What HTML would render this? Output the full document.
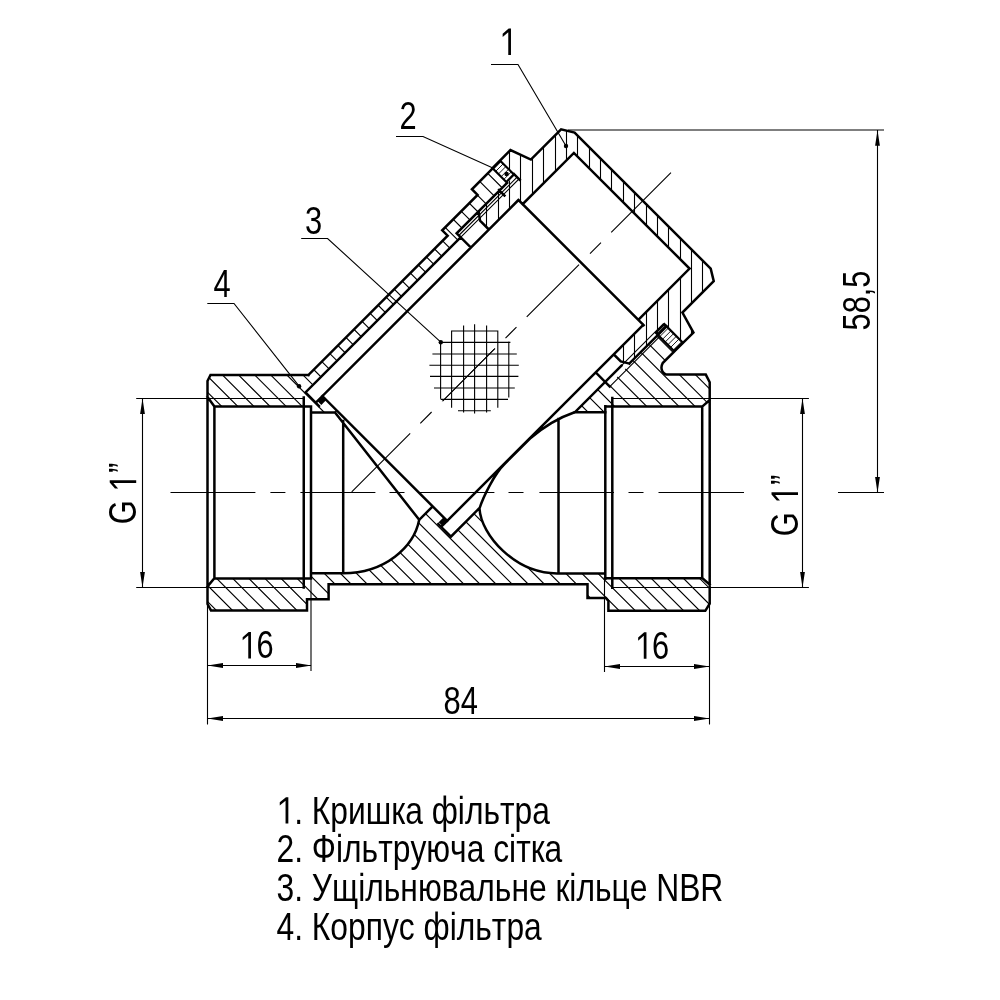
<!DOCTYPE html>
<html><head><meta charset="utf-8"><style>html,body{margin:0;padding:0;background:#fff;width:1000px;height:1000px;overflow:hidden}svg{display:block;filter:grayscale(1)}text{font-family:"Liberation Sans",sans-serif;fill:#000;font-kerning:none}</style></head><body>
<svg width="1000" height="1000" viewBox="0 0 1000 1000">
<rect width="1000" height="1000" fill="#fff"/>
<defs>
<clipPath id="cb"><path d="M207.5,586.4 L214.2,578.4 L310.2,578.4 L310.2,573.2 L343.2,573.2 C385,573.2 414,547 419.24,519.82 L431.96,507.1 L442.22,517.35 L438.33,524.07 L450.91,536.65 L478.84,508.72 C481,535 515,573.4 557,573.4 L605,573.4 L605,578.4 L702.5,578.4 L709.7,584.6 L709.7,603.6 L705.3,610.8 L608.4,610.8 L608.4,601 L606,598 L587.5,598 L587.5,584.2 L328.6,584.2 L328.6,599.2 L307,599.2 L307,610.4 L211,610.4 L207.5,604 Z"/><path d="M207.5,397 L207.5,381 L210.5,375 L308.36,375.01 L447.66,235.71 L442.22,230.26 L477.57,194.91 L471.92,189.25 L492.7,168.46 L507.13,182.89 L456.64,233.37 L460.6,237.33 L305.46,392.47 L318.9,405.91 L333,412.5 L311,412.5 L311,406.5 L214.4,406.5 Z"/></clipPath>
<clipPath id="cr"><path d="M574.8,412.34 L605.2,381.94 L608.74,385.47 L658.59,335.62 L674.36,351.39 L662.69,363.06 C660,368 662,374.6 668,374.6 L705.8,374.6 L709.4,382.3 L709.4,400.3 L702.2,406.6 L605.9,406.6 L605.9,412.3 L574.6,412.3 Z"/></clipPath>
<clipPath id="cc"><path d="M488.89,229.56 L480.05,220.72 L478.56,211.45 L514.62,175.39 L499.85,160.61 L510.45,150.01 L530.89,159.55 L561.08,129.36 L574.59,132.54 L710.71,268.66 L713.75,281.18 L682.42,312.5 L693.45,332.58 L683.13,342.91 L666.51,326.29 L629.25,363.55 L620.76,361.43 L614.04,354.71 L643.6,325.16 L638.3,319.85 L689.56,268.59 L573.88,152.91 L522.61,204.17 L518.44,200 Z"/></clipPath>
<clipPath id="co"><path d="M492.85,168.6 L500.48,160.97 L513.92,174.4 L506.28,182.04 Z"/><path d="M655.76,332.79 L664.39,324.17 L682.63,342.41 L674.01,351.04 Z"/></clipPath>
</defs>
<path clip-path="url(#cb)" d="M-1440.5,0 L-440.5,1000 M-1424.4,0 L-424.4,1000 M-1408.3,0 L-408.3,1000 M-1392.2,0 L-392.2,1000 M-1376.1,0 L-376.1,1000 M-1360,0 L-360,1000 M-1343.9,0 L-343.9,1000 M-1327.8,0 L-327.8,1000 M-1311.7,0 L-311.7,1000 M-1295.6,0 L-295.6,1000 M-1279.5,0 L-279.5,1000 M-1263.4,0 L-263.4,1000 M-1247.3,0 L-247.3,1000 M-1231.2,0 L-231.2,1000 M-1215.1,0 L-215.1,1000 M-1199,0 L-199,1000 M-1182.9,0 L-182.9,1000 M-1166.8,0 L-166.8,1000 M-1150.7,0 L-150.7,1000 M-1134.6,0 L-134.6,1000 M-1118.5,0 L-118.5,1000 M-1102.4,0 L-102.4,1000 M-1086.3,0 L-86.3,1000 M-1070.2,0 L-70.2,1000 M-1054.1,0 L-54.1,1000 M-1038,0 L-38,1000 M-1021.9,0 L-21.9,1000 M-1005.8,0 L-5.8,1000 M-989.7,0 L10.3,1000 M-973.6,0 L26.4,1000 M-957.5,0 L42.5,1000 M-941.4,0 L58.6,1000 M-925.3,0 L74.7,1000 M-909.2,0 L90.8,1000 M-893.1,0 L106.9,1000 M-877,0 L123,1000 M-860.9,0 L139.1,1000 M-844.8,0 L155.2,1000 M-828.7,0 L171.3,1000 M-812.6,0 L187.4,1000 M-796.5,0 L203.5,1000 M-780.4,0 L219.6,1000 M-764.3,0 L235.7,1000 M-748.2,0 L251.8,1000 M-732.1,0 L267.9,1000 M-716,0 L284,1000 M-699.9,0 L300.1,1000 M-683.8,0 L316.2,1000 M-667.7,0 L332.3,1000 M-651.6,0 L348.4,1000 M-635.5,0 L364.5,1000 M-619.4,0 L380.6,1000 M-603.3,0 L396.7,1000 M-587.2,0 L412.8,1000 M-571.1,0 L428.9,1000 M-555,0 L445,1000 M-538.9,0 L461.1,1000 M-522.8,0 L477.2,1000 M-506.7,0 L493.3,1000 M-490.6,0 L509.4,1000 M-474.5,0 L525.5,1000 M-458.4,0 L541.6,1000 M-442.3,0 L557.7,1000 M-426.2,0 L573.8,1000 M-410.1,0 L589.9,1000 M-394,0 L606,1000 M-377.9,0 L622.1,1000 M-361.8,0 L638.2,1000 M-345.7,0 L654.3,1000 M-329.6,0 L670.4,1000 M-313.5,0 L686.5,1000 M-297.4,0 L702.6,1000 M-281.3,0 L718.7,1000 M-265.2,0 L734.8,1000 M-249.1,0 L750.9,1000 M-233,0 L767,1000 M-216.9,0 L783.1,1000 M-200.8,0 L799.2,1000 M-184.7,0 L815.3,1000 M-168.6,0 L831.4,1000 M-152.5,0 L847.5,1000 M-136.4,0 L863.6,1000 M-120.3,0 L879.7,1000 M-104.2,0 L895.8,1000 M-88.1,0 L911.9,1000 M-72,0 L928,1000 M-55.9,0 L944.1,1000 M-39.8,0 L960.2,1000 M-23.7,0 L976.3,1000 M-7.6,0 L992.4,1000 M8.5,0 L1008.5,1000 M24.6,0 L1024.6,1000 M40.7,0 L1040.7,1000 M56.8,0 L1056.8,1000 M72.9,0 L1072.9,1000 M89,0 L1089,1000 M105.1,0 L1105.1,1000 M121.2,0 L1121.2,1000 M137.3,0 L1137.3,1000 M153.4,0 L1153.4,1000 M169.5,0 L1169.5,1000 M185.6,0 L1185.6,1000 M201.7,0 L1201.7,1000 M217.8,0 L1217.8,1000 M233.9,0 L1233.9,1000 M250,0 L1250,1000 M266.1,0 L1266.1,1000 M282.2,0 L1282.2,1000 M298.3,0 L1298.3,1000 M314.4,0 L1314.4,1000 M330.5,0 L1330.5,1000 M346.6,0 L1346.6,1000 M362.7,0 L1362.7,1000 M378.8,0 L1378.8,1000 M394.9,0 L1394.9,1000 M411,0 L1411,1000 M427.1,0 L1427.1,1000 M443.2,0 L1443.2,1000 M459.3,0 L1459.3,1000 M475.4,0 L1475.4,1000 M491.5,0 L1491.5,1000 M507.6,0 L1507.6,1000 M523.7,0 L1523.7,1000 M539.8,0 L1539.8,1000 M555.9,0 L1555.9,1000 M572,0 L1572,1000 M588.1,0 L1588.1,1000 M604.2,0 L1604.2,1000 M620.3,0 L1620.3,1000 M636.4,0 L1636.4,1000 M652.5,0 L1652.5,1000 M668.6,0 L1668.6,1000 M684.7,0 L1684.7,1000 M700.8,0 L1700.8,1000 M716.9,0 L1716.9,1000 M733,0 L1733,1000 M749.1,0 L1749.1,1000 M765.2,0 L1765.2,1000 M781.3,0 L1781.3,1000 M797.4,0 L1797.4,1000 M813.5,0 L1813.5,1000 M829.6,0 L1829.6,1000 M845.7,0 L1845.7,1000 M861.8,0 L1861.8,1000 M877.9,0 L1877.9,1000 M894,0 L1894,1000 M910.1,0 L1910.1,1000 M926.2,0 L1926.2,1000 M942.3,0 L1942.3,1000 M958.4,0 L1958.4,1000 M974.5,0 L1974.5,1000 M990.6,0 L1990.6,1000 M1006.7,0 L2006.7,1000 M1022.8,0 L2022.8,1000 M1038.9,0 L2038.9,1000 M1055,0 L2055,1000 M1071.1,0 L2071.1,1000 M1087.2,0 L2087.2,1000 M1103.3,0 L2103.3,1000 M1119.4,0 L2119.4,1000" stroke="#000" stroke-width="1.15" fill="none"/>
<path clip-path="url(#cr)" d="M-1434.1,0 L-434.1,1000 M-1418,0 L-418,1000 M-1401.9,0 L-401.9,1000 M-1385.8,0 L-385.8,1000 M-1369.7,0 L-369.7,1000 M-1353.6,0 L-353.6,1000 M-1337.5,0 L-337.5,1000 M-1321.4,0 L-321.4,1000 M-1305.3,0 L-305.3,1000 M-1289.2,0 L-289.2,1000 M-1273.1,0 L-273.1,1000 M-1257,0 L-257,1000 M-1240.9,0 L-240.9,1000 M-1224.8,0 L-224.8,1000 M-1208.7,0 L-208.7,1000 M-1192.6,0 L-192.6,1000 M-1176.5,0 L-176.5,1000 M-1160.4,0 L-160.4,1000 M-1144.3,0 L-144.3,1000 M-1128.2,0 L-128.2,1000 M-1112.1,0 L-112.1,1000 M-1096,0 L-96,1000 M-1079.9,0 L-79.9,1000 M-1063.8,0 L-63.8,1000 M-1047.7,0 L-47.7,1000 M-1031.6,0 L-31.6,1000 M-1015.5,0 L-15.5,1000 M-999.4,0 L0.6,1000 M-983.3,0 L16.7,1000 M-967.2,0 L32.8,1000 M-951.1,0 L48.9,1000 M-935,0 L65,1000 M-918.9,0 L81.1,1000 M-902.8,0 L97.2,1000 M-886.7,0 L113.3,1000 M-870.6,0 L129.4,1000 M-854.5,0 L145.5,1000 M-838.4,0 L161.6,1000 M-822.3,0 L177.7,1000 M-806.2,0 L193.8,1000 M-790.1,0 L209.9,1000 M-774,0 L226,1000 M-757.9,0 L242.1,1000 M-741.8,0 L258.2,1000 M-725.7,0 L274.3,1000 M-709.6,0 L290.4,1000 M-693.5,0 L306.5,1000 M-677.4,0 L322.6,1000 M-661.3,0 L338.7,1000 M-645.2,0 L354.8,1000 M-629.1,0 L370.9,1000 M-613,0 L387,1000 M-596.9,0 L403.1,1000 M-580.8,0 L419.2,1000 M-564.7,0 L435.3,1000 M-548.6,0 L451.4,1000 M-532.5,0 L467.5,1000 M-516.4,0 L483.6,1000 M-500.3,0 L499.7,1000 M-484.2,0 L515.8,1000 M-468.1,0 L531.9,1000 M-452,0 L548,1000 M-435.9,0 L564.1,1000 M-419.8,0 L580.2,1000 M-403.7,0 L596.3,1000 M-387.6,0 L612.4,1000 M-371.5,0 L628.5,1000 M-355.4,0 L644.6,1000 M-339.3,0 L660.7,1000 M-323.2,0 L676.8,1000 M-307.1,0 L692.9,1000 M-291,0 L709,1000 M-274.9,0 L725.1,1000 M-258.8,0 L741.2,1000 M-242.7,0 L757.3,1000 M-226.6,0 L773.4,1000 M-210.5,0 L789.5,1000 M-194.4,0 L805.6,1000 M-178.3,0 L821.7,1000 M-162.2,0 L837.8,1000 M-146.1,0 L853.9,1000 M-130,0 L870,1000 M-113.9,0 L886.1,1000 M-97.8,0 L902.2,1000 M-81.7,0 L918.3,1000 M-65.6,0 L934.4,1000 M-49.5,0 L950.5,1000 M-33.4,0 L966.6,1000 M-17.3,0 L982.7,1000 M-1.2,0 L998.8,1000 M14.9,0 L1014.9,1000 M31,0 L1031,1000 M47.1,0 L1047.1,1000 M63.2,0 L1063.2,1000 M79.3,0 L1079.3,1000 M95.4,0 L1095.4,1000 M111.5,0 L1111.5,1000 M127.6,0 L1127.6,1000 M143.7,0 L1143.7,1000 M159.8,0 L1159.8,1000 M175.9,0 L1175.9,1000 M192,0 L1192,1000 M208.1,0 L1208.1,1000 M224.2,0 L1224.2,1000 M240.3,0 L1240.3,1000 M256.4,0 L1256.4,1000 M272.5,0 L1272.5,1000 M288.6,0 L1288.6,1000 M304.7,0 L1304.7,1000 M320.8,0 L1320.8,1000 M336.9,0 L1336.9,1000 M353,0 L1353,1000 M369.1,0 L1369.1,1000 M385.2,0 L1385.2,1000 M401.3,0 L1401.3,1000 M417.4,0 L1417.4,1000 M433.5,0 L1433.5,1000 M449.6,0 L1449.6,1000 M465.7,0 L1465.7,1000 M481.8,0 L1481.8,1000 M497.9,0 L1497.9,1000 M514,0 L1514,1000 M530.1,0 L1530.1,1000 M546.2,0 L1546.2,1000 M562.3,0 L1562.3,1000 M578.4,0 L1578.4,1000 M594.5,0 L1594.5,1000 M610.6,0 L1610.6,1000 M626.7,0 L1626.7,1000 M642.8,0 L1642.8,1000 M658.9,0 L1658.9,1000 M675,0 L1675,1000 M691.1,0 L1691.1,1000 M707.2,0 L1707.2,1000 M723.3,0 L1723.3,1000 M739.4,0 L1739.4,1000 M755.5,0 L1755.5,1000 M771.6,0 L1771.6,1000 M787.7,0 L1787.7,1000 M803.8,0 L1803.8,1000 M819.9,0 L1819.9,1000 M836,0 L1836,1000 M852.1,0 L1852.1,1000 M868.2,0 L1868.2,1000 M884.3,0 L1884.3,1000 M900.4,0 L1900.4,1000 M916.5,0 L1916.5,1000 M932.6,0 L1932.6,1000 M948.7,0 L1948.7,1000 M964.8,0 L1964.8,1000 M980.9,0 L1980.9,1000 M997,0 L1997,1000 M1013.1,0 L2013.1,1000 M1029.2,0 L2029.2,1000 M1045.3,0 L2045.3,1000 M1061.4,0 L2061.4,1000 M1077.5,0 L2077.5,1000 M1093.6,0 L2093.6,1000 M1109.7,0 L2109.7,1000 M1125.8,0 L2125.8,1000" stroke="#000" stroke-width="1.15" fill="none"/>
<path clip-path="url(#cc)" d="M441.5,100 L441.5,400 M452.5,100 L452.5,400 M464.5,100 L464.5,400 M475.5,100 L475.5,400 M486.5,100 L486.5,400 M498.5,100 L498.5,400 M509.5,100 L509.5,400 M520.5,100 L520.5,400 M532.5,100 L532.5,400 M543.5,100 L543.5,400 M555.5,100 L555.5,400 M566.5,100 L566.5,400 M577.5,100 L577.5,400 M589.5,100 L589.5,400 M600.5,100 L600.5,400 M611.5,100 L611.5,400 M623.5,100 L623.5,400 M634.5,100 L634.5,400 M646.5,100 L646.5,400 M657.5,100 L657.5,400 M668.5,100 L668.5,400 M680.5,100 L680.5,400 M691.5,100 L691.5,400 M702.5,100 L702.5,400 M714.5,100 L714.5,400 M725.5,100 L725.5,400 M737.5,100 L737.5,400 M748.5,100 L748.5,400 M759.5,100 L759.5,400 M771.5,100 L771.5,400" stroke="#000" stroke-width="1.1" fill="none"/>
<path clip-path="url(#co)" d="M324,100 L24,400 M329.4,100 L29.4,400 M334.8,100 L34.8,400 M340.2,100 L40.2,400 M345.6,100 L45.6,400 M351,100 L51,400 M356.4,100 L56.4,400 M361.8,100 L61.8,400 M367.2,100 L67.2,400 M372.6,100 L72.6,400 M378,100 L78,400 M383.4,100 L83.4,400 M388.8,100 L88.8,400 M394.2,100 L94.2,400 M399.6,100 L99.6,400 M405,100 L105,400 M410.4,100 L110.4,400 M415.8,100 L115.8,400 M421.2,100 L121.2,400 M426.6,100 L126.6,400 M432,100 L132,400 M437.4,100 L137.4,400 M442.8,100 L142.8,400 M448.2,100 L148.2,400 M453.6,100 L153.6,400 M459,100 L159,400 M464.4,100 L164.4,400 M469.8,100 L169.8,400 M475.2,100 L175.2,400 M480.6,100 L180.6,400 M486,100 L186,400 M491.4,100 L191.4,400 M496.8,100 L196.8,400 M502.2,100 L202.2,400 M507.6,100 L207.6,400 M513,100 L213,400 M518.4,100 L218.4,400 M523.8,100 L223.8,400 M529.2,100 L229.2,400 M534.6,100 L234.6,400 M540,100 L240,400 M545.4,100 L245.4,400 M550.8,100 L250.8,400 M556.2,100 L256.2,400 M561.6,100 L261.6,400 M567,100 L267,400 M572.4,100 L272.4,400 M577.8,100 L277.8,400 M583.2,100 L283.2,400 M588.6,100 L288.6,400 M594,100 L294,400 M599.4,100 L299.4,400 M604.8,100 L304.8,400 M610.2,100 L310.2,400 M615.6,100 L315.6,400 M621,100 L321,400 M626.4,100 L326.4,400 M631.8,100 L331.8,400 M637.2,100 L337.2,400 M642.6,100 L342.6,400 M648,100 L348,400 M653.4,100 L353.4,400 M658.8,100 L358.8,400 M664.2,100 L364.2,400 M669.6,100 L369.6,400 M675,100 L375,400 M680.4,100 L380.4,400 M685.8,100 L385.8,400 M691.2,100 L391.2,400 M696.6,100 L396.6,400 M702,100 L402,400 M707.4,100 L407.4,400 M712.8,100 L412.8,400 M718.2,100 L418.2,400 M723.6,100 L423.6,400 M729,100 L429,400 M734.4,100 L434.4,400 M739.8,100 L439.8,400 M745.2,100 L445.2,400 M750.6,100 L450.6,400 M756,100 L456,400 M761.4,100 L461.4,400 M766.8,100 L466.8,400 M772.2,100 L472.2,400 M777.6,100 L477.6,400 M783,100 L483,400 M788.4,100 L488.4,400 M793.8,100 L493.8,400 M799.2,100 L499.2,400 M804.6,100 L504.6,400 M810,100 L510,400 M815.4,100 L515.4,400 M820.8,100 L520.8,400 M826.2,100 L526.2,400 M831.6,100 L531.6,400 M837,100 L537,400 M842.4,100 L542.4,400 M847.8,100 L547.8,400 M853.2,100 L553.2,400 M858.6,100 L558.6,400 M864,100 L564,400 M869.4,100 L569.4,400 M874.8,100 L574.8,400 M880.2,100 L580.2,400 M885.6,100 L585.6,400 M891,100 L591,400 M896.4,100 L596.4,400 M901.8,100 L601.8,400 M907.2,100 L607.2,400 M912.6,100 L612.6,400 M918,100 L618,400 M923.4,100 L623.4,400 M928.8,100 L628.8,400 M934.2,100 L634.2,400 M939.6,100 L639.6,400 M945,100 L645,400 M950.4,100 L650.4,400 M955.8,100 L655.8,400 M961.2,100 L661.2,400 M966.6,100 L666.6,400 M972,100 L672,400 M977.4,100 L677.4,400 M982.8,100 L682.8,400 M988.2,100 L688.2,400 M993.6,100 L693.6,400 M999,100 L699,400 M1004.4,100 L704.4,400 M1009.8,100 L709.8,400 M1015.2,100 L715.2,400 M1020.6,100 L720.6,400 M1026,100 L726,400 M1031.4,100 L731.4,400 M1036.8,100 L736.8,400 M1042.2,100 L742.2,400 M1047.6,100 L747.6,400 M1053,100 L753,400 M1058.4,100 L758.4,400 M1063.8,100 L763.8,400 M1069.2,100 L769.2,400 M1074.6,100 L774.6,400 M1080,100 L780,400 M1085.4,100 L785.4,400 M1090.8,100 L790.8,400 M1096.2,100 L796.2,400 M1101.6,100 L801.6,400 M1107,100 L807,400 M1112.4,100 L812.4,400 M1117.8,100 L817.8,400 M1123.2,100 L823.2,400 M1128.6,100 L828.6,400 M1134,100 L834,400 M1139.4,100 L839.4,400 M1144.8,100 L844.8,400 M1150.2,100 L850.2,400 M1155.6,100 L855.6,400 M1161,100 L861,400 M1166.4,100 L866.4,400 M1171.8,100 L871.8,400 M1177.2,100 L877.2,400 M1182.6,100 L882.6,400 M1188,100 L888,400 M1193.4,100 L893.4,400 M1198.8,100 L898.8,400 M1204.2,100 L904.2,400 M1209.6,100 L909.6,400 M1215,100 L915,400 M1220.4,100 L920.4,400 M1225.8,100 L925.8,400 M1231.2,100 L931.2,400 M1236.6,100 L936.6,400 M1242,100 L942,400 M1247.4,100 L947.4,400 M1252.8,100 L952.8,400 M1258.2,100 L958.2,400 M1263.6,100 L963.6,400 M1269,100 L969,400 M1274.4,100 L974.4,400 M1279.8,100 L979.8,400 M1285.2,100 L985.2,400 M1290.6,100 L990.6,400 M1296,100 L996,400 M1301.4,100 L1001.4,400 M1306.8,100 L1006.8,400 M1312.2,100 L1012.2,400 M1317.6,100 L1017.6,400 M1323,100 L1023,400 M1328.4,100 L1028.4,400 M1333.8,100 L1033.8,400 M1339.2,100 L1039.2,400 M1344.6,100 L1044.6,400 M1350,100 L1050,400 M1355.4,100 L1055.4,400 M1360.8,100 L1060.8,400 M1366.2,100 L1066.2,400 M1371.6,100 L1071.6,400 M1377,100 L1077,400 M1382.4,100 L1082.4,400 M1387.8,100 L1087.8,400 M1393.2,100 L1093.2,400 M1398.6,100 L1098.6,400" stroke="#000" stroke-width="0.9" fill="none"/>
<path d="M308.5,375 L210.5,375 L207.5,381 L207.5,604 L211,610.4 L307,610.4 L307,599.2 L328.6,599.2 L328.6,584.2 L587.5,584.2 L587.5,598 L606,598 L608.4,601 L608.4,610.8 L705.3,610.8 L709.7,603.6 L709.7,382.3 L705.8,374.6 L668,374.6 C662,374.6 660,368 662.69,363.06 L675.14,350.61 M308.36,375.01 L447.66,235.71 L442.22,230.26 L477.57,194.91 L471.92,189.25 L492.7,168.46 M318.9,405.91 L305.46,392.47 L460.6,237.33 M470.5,247.23 L456.64,233.37 L507.13,182.89 M596.37,373.1 L609.8,386.53 M629.25,363.55 L666.51,326.29 M499,190.03 L504.51,195.54 M513.99,174.05 L519.79,179.85 M574.8,412.34 L621.47,365.67 M207.5,397 L214.4,406.5 L311,406.5 M214.4,406.5 L214.4,578.4 M207.5,586.4 L214.2,578.4 L310.2,578.4 M311,406.5 L311,578.4 M311,573.2 L343.2,573.2 M311,412.5 L335,412.5 M343.2,421 L343.2,573.2 M303.75,397.5 L303.75,587.5 M709.4,400.3 L702.2,406.6 L605.5,406.6 M702.2,406.6 L702.2,578.3 M709.7,584.6 L702.5,578.3 L605,578.3 M605.3,406.2 L605.3,578.8 M612.3,398 L612.3,587.8 M605.5,412.3 L574.6,412.3 M558.5,419 L558.5,573.4 M556,573.4 L605,573.4 M335,412.5 L419.2,519.8 M343.2,573.2 C385,573.2 414,547 419.2,519.8 M479.5,508.5 C481,535 515,573.4 557,573.4 M479.5,508.5 C483,497 495,473 504.5,464 L530,438.5 C540,430 555,419 574.6,412.3 M419.24,519.82 L431.96,507.1 M438.33,524.07 L450.91,536.65 L478.84,508.72 M317.41,401.03 L518.44,200 M442.22,525.83 L643.25,324.8 M322.36,396.08 L447.17,520.88 M518.44,200 L643.6,325.16 M492.49,168.25 L510.45,150.01 L530.89,159.55 L561.08,129.36 L574.59,132.54 L710.71,268.66 L713.75,281.18 L682.42,312.5 L693.45,332.58 L674.36,351.39 M522.61,204.17 L573.88,152.91 L689.56,268.59 L638.3,319.85 M488.89,229.56 L480.05,220.72 L478.56,211.45 M614.04,354.71 L620.76,361.43 L629.25,363.55" stroke="#000" stroke-width="2.5" fill="none" stroke-linejoin="miter" stroke-linecap="square"/>
<path d="M492.85,168.6 L500.48,160.97 L513.92,174.4 L506.28,182.04 Z M655.76,332.79 L664.39,324.17 L682.63,342.41 L674.01,351.04 Z" stroke="#000" stroke-width="2.2" fill="none"/>
<path d="M317.41,401.03 L322.36,396.08 L326.25,399.97 L321.3,404.92 Z M438.68,522.3 L443.63,517.35 L447.17,520.88 L442.22,525.83 Z" fill="#000"/>
<path d="M170.5,492.5 L255.4,492.5 M270.4,492.5 L285.4,492.5 M300.4,492.5 L375.4,492.5 M389.5,492.5 L404.5,492.5 M419.5,492.5 L494.4,492.5 M508.5,492.5 L523.5,492.5 M539.4,492.5 L614,492.5 M628.5,492.5 L643.5,492.5 M658.5,492.5 L744,492.5 M351.71,491.89 L410.18,433.42 M420.3,423.3 L431.61,411.99 M442.57,401.03 L494.9,348.7 M505.5,338.1 L516.46,327.14 M526.72,316.88 L579.04,264.56 M590,253.6 L600.96,242.64 M611.22,232.38 L670.97,172.63 M136.2,398.5 L303.75,398.5 M136.2,587.5 L303.75,587.5 M612.3,398.5 L808.9,398.5 M612.3,587.5 L808.9,587.5 M142.5,398.5 L142.5,587.5 M802.5,398.5 L802.5,587.5 M568,130 L884,130 M838,492.5 L884,492.5 M877.5,130 L877.5,492.5 M207.5,604 L207.5,724.5 M311,578.4 L311,671 M207.5,665.5 L311.5,665.5 M604.5,579 L604.5,672 M709.5,604 L709.5,724.5 M604.5,666.5 L709.5,666.5 M207.5,718.5 L709.5,718.5 M491,64.5 L518,64.5 L566,146 M396,136.5 L423,136.5 L494,168.5 M301.2,238.5 L327.6,238.5 L440.8,342.2 M207.3,303.5 L234,303.5 L299.1,386.2 M460.6,237.33 L518.94,179 M458.76,235.5 L517.1,177.16 M621.47,365.67 L663.68,323.46 M609.8,386.53 L659.65,336.68" stroke="#000" stroke-width="1.1" fill="none"/>
<path d="M440.6,342.4 L440.6,398.8 M451.6,330.6 L451.6,407.8 M463.6,325.4 L463.6,412.6 M474.6,324.2 L474.6,413.4 M486.6,325.4 L486.6,412.6 M497.8,330.6 L497.8,407.8 M508.8,341.4 L508.8,397.6 M451.4,331 L498,331 M440.6,342.4 L510.4,342.4 M432.4,354 L516.8,354 M429.4,365.2 L518.8,365.2 M430,376.4 L518.4,376.4 M434,388 L514.8,388 M440.6,399.4 L508,399.4 M458,410.8 L490.8,410.8" stroke="#000" stroke-width="1.1" fill="none"/>
<path d="M442.6,401.2 L494.8,348.4" stroke="#000" stroke-width="1" fill="none"/>
<circle cx="566" cy="146" r="2.2" fill="#000"/>
<circle cx="440.8" cy="342.2" r="2.2" fill="#000"/>
<circle cx="299.1" cy="386.2" r="2.2" fill="#000"/>
<circle cx="506.6" cy="174" r="2.2" fill="#000"/>
<path d="M142.5,398.5 L144.9,414 L140.1,414 Z M142.5,587.5 L140.1,572 L144.9,572 Z M802.5,398.5 L804.9,414 L800.1,414 Z M802.5,587.5 L800.1,572 L804.9,572 Z M877.5,130.2 L879.9,145.7 L875.1,145.7 Z M877.5,492.5 L875.1,477 L879.9,477 Z M207.5,665.5 L223,663.1 L223,667.9 Z M311.5,665.5 L296,667.9 L296,663.1 Z M604.5,666.5 L620,664.1 L620,668.9 Z M709.5,666.5 L694,668.9 L694,664.1 Z M207.5,718.5 L223,716.1 L223,720.9 Z M709.5,718.5 L694,720.9 L694,716.1 Z" fill="#000"/>
<g transform="translate(499.5,55) scale(0.8,1)"><path transform="translate(0,0) scale(0.01880,-0.01880)" d="M583,0 L763,0 L763,1409 L610,1409 L210,1130 L210,960 L583,1215 Z"/></g>
<g transform="translate(399.5,129) scale(0.8,1)"><text x="0" y="0" font-size="38.5">2</text></g>
<g transform="translate(305,233.7) scale(0.78,1)"><text x="0" y="0" font-size="39.6">3</text></g>
<g transform="translate(213.5,297.2) scale(0.78,1)"><text x="0" y="0" font-size="39.6">4</text></g>
<g transform="translate(239.5,658.4) scale(0.8,1)"><path transform="translate(0,0) scale(0.01880,-0.01880)" d="M583,0 L763,0 L763,1409 L610,1409 L210,1130 L210,960 L583,1215 Z"/><text x="21.41" y="0" font-size="38.5">6</text></g>
<g transform="translate(635,658.7) scale(0.8,1)"><path transform="translate(0,0) scale(0.01880,-0.01880)" d="M583,0 L763,0 L763,1409 L610,1409 L210,1130 L210,960 L583,1215 Z"/><text x="21.41" y="0" font-size="38.5">6</text></g>
<g transform="translate(443.5,713.6) scale(0.78,1)"><text x="0" y="0" font-size="39.6">84</text></g>
<g transform="translate(870,330.5) rotate(-90) scale(0.8,1)"><text x="0" y="0" font-size="38.5">58,5</text></g>
<g transform="translate(136.2,524.2) rotate(-90) scale(0.8,1)"><text x="0" y="0" font-size="38.5">G </text><path transform="translate(40.64,0) scale(0.01880,-0.01880)" d="M583,0 L763,0 L763,1409 L610,1409 L210,1130 L210,960 L583,1215 Z"/></g>
<g transform="translate(136.2,473.1) rotate(-90) scale(0.8,1)"><text x="0" y="0" font-size="38.5">”</text></g>
<g transform="translate(798,536.2) rotate(-90) scale(0.8,1)"><text x="0" y="0" font-size="38.5">G </text><path transform="translate(40.64,0) scale(0.01880,-0.01880)" d="M583,0 L763,0 L763,1409 L610,1409 L210,1130 L210,960 L583,1215 Z"/></g>
<g transform="translate(798,485.1) rotate(-90) scale(0.8,1)"><text x="0" y="0" font-size="38.5">”</text></g>
<g transform="translate(276.5,823.5) scale(0.83,1)"><path transform="translate(0,0) scale(0.01870,-0.01870)" d="M583,0 L763,0 L763,1409 L610,1409 L210,1130 L210,960 L583,1215 Z"/><text x="21.3" y="0" font-size="38.3">. Кришка фільтра</text></g>
<g transform="translate(276.5,862.3) scale(0.83,1)"><text x="0" y="0" font-size="38.3">2. Фільтруюча сітка</text></g>
<g transform="translate(276.5,901.1) scale(0.83,1)"><text x="0" y="0" font-size="38.3">3. Ущільнювальне кільце NBR</text></g>
<g transform="translate(276.5,939.9) scale(0.83,1)"><text x="0" y="0" font-size="38.3">4. Корпус фільтра</text></g>
</svg></body></html>
